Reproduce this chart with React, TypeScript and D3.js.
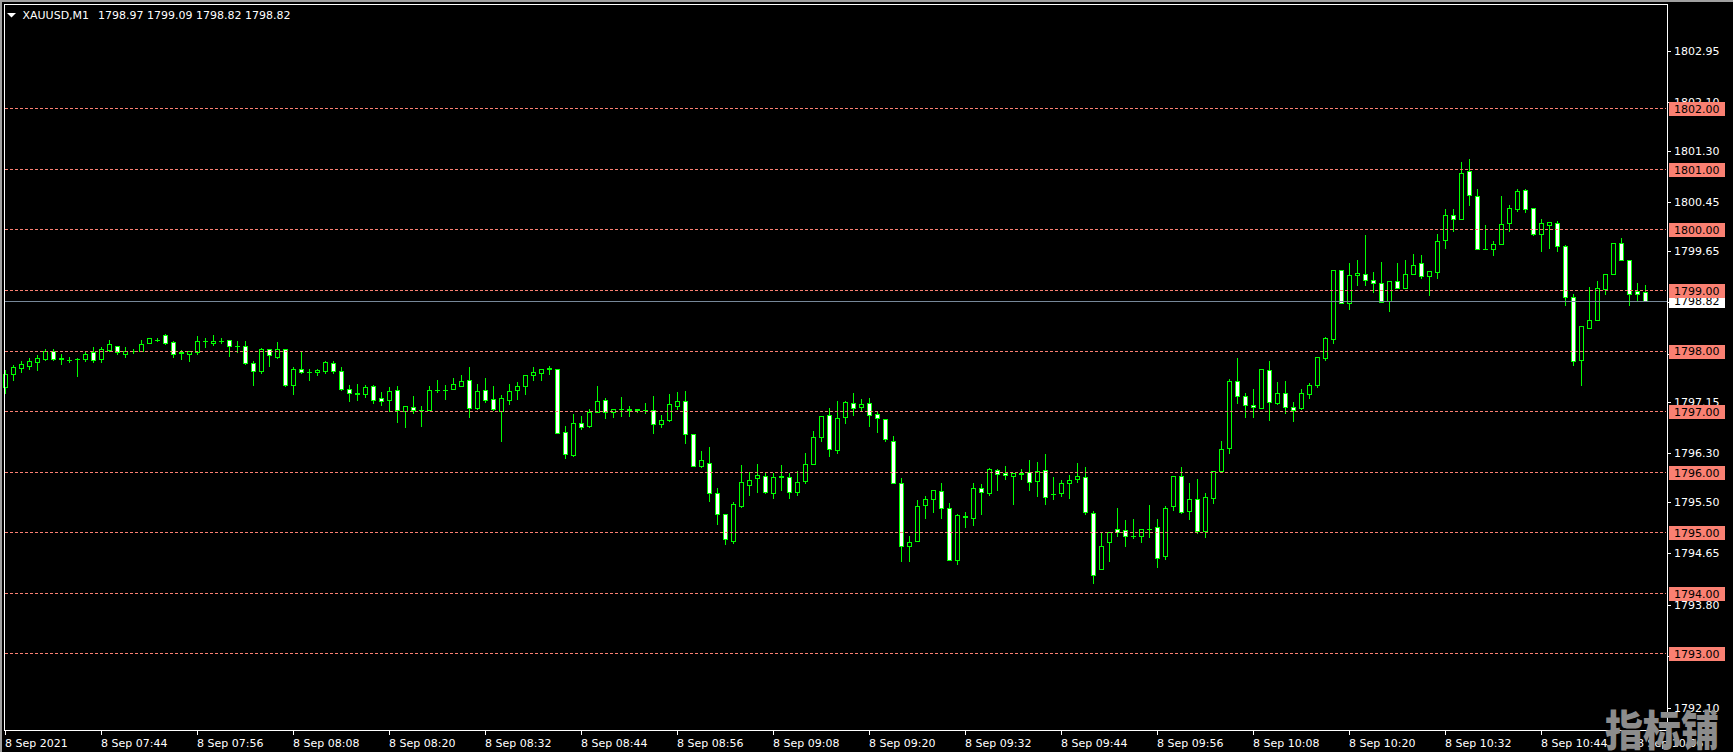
import React from 'react';
import * as d3 from 'd3';

const W = 1733;
const H = 752;

const OPEN = [
  1797.40,1797.62,1797.71,1797.75,1797.81,1797.86,1798.00,1797.87,1797.85,1797.86,
  1797.86,1797.97,1797.86,1798.01,1798.08,1797.95,1797.99,1798.00,1798.12,1798.18,
  1798.25,1798.14,1797.97,1797.95,1797.97,1798.16,1798.13,1798.16,1798.18,1798.07,
  1798.08,1797.79,1797.66,1798.02,1797.90,1798.02,1797.43,1797.70,1797.64,1797.64,
  1797.66,1797.79,1797.66,1797.37,1797.30,1797.29,1797.41,1797.21,1797.19,1797.35,
  1797.00,1797.07,1797.02,1797.02,1797.34,1797.35,1797.37,1797.42,1797.51,1797.05,
  1797.35,1797.20,1797.00,1797.19,1797.34,1797.42,1797.60,1797.63,1797.70,1797.69,
  1796.66,1796.27,1796.81,1796.75,1796.99,1797.18,1796.99,1797.03,1797.04,1797.02,
  1797.02,1797.01,1796.78,1796.86,1797.09,1797.16,1796.62,1796.10,1796.14,1795.64,
  1795.30,1794.86,1795.44,1795.78,1795.89,1795.93,1795.64,1795.92,1795.91,1795.66,
  1795.84,1796.12,1796.58,1796.93,1796.35,1796.90,1797.13,1797.07,1797.13,1796.95,
  1796.87,1796.50,1795.81,1794.77,1794.85,1795.45,1795.55,1795.68,1795.40,1794.54,
  1795.26,1795.23,1795.73,1795.64,1796.02,1795.98,1795.93,1795.97,1795.99,1795.84,
  1796.02,1795.63,1795.64,1795.81,1795.88,1795.91,1795.31,1794.39,1794.83,1795.05,
  1795.03,1794.93,1794.93,1795.06,1795.08,1794.60,1795.43,1795.93,1795.35,1795.55,
  1795.02,1795.57,1796.01,1796.39,1797.50,1797.25,1797.10,1797.05,1797.68,1797.13,
  1797.30,1797.07,1797.05,1797.28,1797.43,1797.88,1798.19,1799.33,1798.78,1799.24,
  1799.26,1799.16,1799.11,1798.81,1799.14,1799.04,1799.26,1799.44,1799.23,1799.29,
  1799.82,1800.24,1800.18,1800.97,1800.55,1799.68,1799.68,1799.76,1800.10,1800.34,
  1800.65,1800.35,1799.92,1800.07,1800.10,1799.72,1798.88,1797.85,1798.38,1798.51,
  1799.01,1799.26,1799.77,1799.49,1798.98,1798.97,
];

const HIGH = [
  1797.68,1797.76,1797.82,1797.88,1797.92,1798.03,1798.02,1797.94,1797.90,1797.87,
  1798.00,1798.06,1798.06,1798.18,1798.08,1798.05,1798.03,1798.18,1798.20,1798.21,
  1798.27,1798.16,1798.01,1798.00,1798.24,1798.21,1798.26,1798.20,1798.18,1798.15,
  1798.15,1797.82,1798.04,1798.02,1798.14,1798.03,1797.73,1797.98,1797.69,1797.69,
  1797.83,1797.82,1797.73,1797.43,1797.45,1797.43,1797.43,1797.31,1797.39,1797.41,
  1797.08,1797.25,1797.08,1797.41,1797.51,1797.43,1797.54,1797.59,1797.73,1797.45,
  1797.54,1797.41,1797.26,1797.45,1797.48,1797.59,1797.73,1797.69,1797.74,1797.69,
  1796.76,1796.95,1796.92,1797.03,1797.41,1797.21,1797.04,1797.23,1797.09,1797.04,
  1797.13,1797.25,1796.93,1797.28,1797.31,1797.33,1796.62,1796.34,1796.41,1795.73,
  1795.30,1795.50,1796.11,1796.00,1796.13,1795.98,1795.98,1796.11,1795.98,1796.01,
  1796.31,1796.67,1796.92,1797.05,1797.17,1797.17,1797.30,1797.20,1797.22,1796.99,
  1796.87,1796.59,1795.90,1794.94,1795.53,1795.60,1795.69,1795.81,1795.48,1795.30,
  1795.33,1795.82,1795.79,1796.06,1796.05,1796.10,1795.98,1796.05,1796.20,1796.16,
  1796.29,1795.91,1795.87,1795.94,1796.15,1796.08,1795.35,1795.00,1795.00,1795.40,
  1795.20,1795.21,1795.05,1795.45,1795.21,1795.44,1795.93,1796.07,1795.81,1795.88,
  1795.64,1796.01,1796.51,1797.53,1797.88,1797.30,1797.37,1797.70,1797.82,1797.48,
  1797.50,1797.15,1797.37,1797.46,1797.90,1798.22,1799.33,1799.33,1799.44,1799.50,
  1799.91,1799.29,1799.46,1799.14,1799.45,1799.50,1799.60,1799.58,1799.31,1799.93,
  1800.33,1800.34,1801.12,1801.17,1800.67,1800.08,1799.81,1800.56,1800.40,1800.67,
  1800.67,1800.35,1800.17,1800.12,1800.14,1799.74,1798.94,1798.40,1799.05,1799.15,
  1799.26,1799.77,1799.86,1799.49,1799.11,1799.09,
];

const LOW = [
  1797.30,1797.52,1797.65,1797.70,1797.68,1797.84,1797.85,1797.77,1797.81,1797.58,
  1797.82,1797.81,1797.81,1797.99,1797.95,1797.90,1797.96,1797.99,1798.12,1798.15,
  1798.10,1797.90,1797.86,1797.83,1797.94,1798.06,1798.09,1798.12,1797.91,1797.98,
  1797.77,1797.43,1797.63,1797.74,1797.87,1797.41,1797.28,1797.63,1797.51,1797.59,
  1797.63,1797.63,1797.35,1797.17,1797.18,1797.24,1797.13,1797.10,1797.00,1796.82,
  1796.73,1796.96,1796.76,1797.02,1797.31,1797.20,1797.37,1797.42,1796.91,1797.03,
  1797.15,1797.01,1796.51,1797.11,1797.20,1797.29,1797.52,1797.52,1797.62,1796.63,
  1796.23,1796.26,1796.70,1796.73,1796.99,1796.89,1796.91,1796.92,1796.92,1796.99,
  1796.97,1796.64,1796.73,1796.84,1797.04,1796.48,1796.10,1796.07,1795.52,1795.14,
  1794.81,1794.82,1795.42,1795.61,1795.67,1795.64,1795.57,1795.69,1795.56,1795.61,
  1795.82,1796.12,1796.50,1796.25,1796.30,1796.80,1796.93,1797.02,1796.75,1796.66,
  1796.50,1795.81,1794.53,1794.52,1794.85,1795.24,1795.34,1795.24,1794.54,1794.48,
  1795.08,1795.12,1795.30,1795.61,1795.69,1795.88,1795.47,1795.88,1795.69,1795.59,
  1795.46,1795.54,1795.59,1795.57,1795.83,1795.30,1794.16,1794.39,1794.53,1794.93,
  1794.78,1794.91,1794.83,1794.92,1794.43,1794.55,1795.37,1795.32,1795.21,1794.99,
  1794.92,1795.49,1795.99,1796.30,1797.13,1796.91,1796.91,1797.05,1796.86,1797.12,
  1796.97,1796.83,1797.04,1797.22,1797.40,1797.85,1798.12,1798.78,1798.69,1799.09,
  1799.08,1798.97,1798.80,1798.66,1799.04,1799.04,1799.26,1799.19,1798.91,1799.19,
  1799.70,1799.97,1800.17,1800.40,1799.67,1799.67,1799.58,1799.76,1799.97,1800.31,
  1800.29,1799.91,1799.64,1799.69,1799.65,1798.75,1797.76,1797.43,1798.38,1798.51,
  1798.94,1799.26,1799.49,1798.75,1798.81,1798.82,
];

const CLOSE = [
  1797.62,1797.72,1797.77,1797.82,1797.88,1797.99,1797.86,1797.86,1797.85,1797.86,
  1797.95,1797.85,1798.03,1798.10,1797.97,1798.00,1797.99,1798.10,1798.20,1798.18,
  1798.13,1797.95,1797.96,1798.00,1798.15,1798.16,1798.16,1798.16,1798.08,1798.07,
  1797.79,1797.66,1798.02,1797.93,1798.03,1797.43,1797.69,1797.64,1797.64,1797.68,
  1797.81,1797.66,1797.37,1797.30,1797.29,1797.39,1797.19,1797.17,1797.33,1797.02,
  1797.08,1797.02,1797.01,1797.35,1797.34,1797.34,1797.45,1797.49,1797.05,1797.33,
  1797.19,1797.04,1797.21,1797.33,1797.42,1797.59,1797.64,1797.69,1797.71,1796.64,
  1796.29,1796.80,1796.74,1796.99,1797.16,1796.99,1797.04,1797.03,1797.01,1797.03,
  1797.01,1796.78,1796.86,1797.11,1797.16,1796.62,1796.10,1796.19,1795.64,1795.30,
  1794.88,1795.46,1795.83,1795.86,1795.94,1795.67,1795.91,1795.91,1795.67,1795.83,
  1796.12,1796.57,1796.92,1796.37,1796.88,1797.15,1797.05,1797.12,1796.93,1796.88,
  1796.54,1795.81,1794.77,1794.83,1795.43,1795.55,1795.69,1795.40,1794.54,1795.28,
  1795.25,1795.73,1795.66,1796.04,1795.96,1795.94,1795.98,1795.96,1795.83,1796.01,
  1795.58,1795.63,1795.81,1795.86,1795.93,1795.33,1794.29,1794.77,1795.00,1795.01,
  1794.93,1794.93,1795.05,1795.05,1794.57,1795.40,1795.93,1795.34,1795.55,1795.02,
  1795.58,1796.01,1796.37,1797.50,1797.25,1797.10,1797.07,1797.70,1797.15,1797.30,
  1797.07,1797.01,1797.30,1797.43,1797.90,1798.20,1799.33,1798.78,1799.24,1799.28,
  1799.16,1799.11,1798.80,1799.14,1799.04,1799.26,1799.41,1799.23,1799.31,1799.81,
  1800.24,1800.18,1800.93,1800.57,1799.67,1799.67,1799.76,1800.09,1800.35,1800.64,
  1800.34,1799.92,1800.10,1800.12,1799.72,1798.88,1797.83,1798.40,1798.51,1799.04,
  1799.26,1799.77,1799.49,1798.94,1798.94,1798.82,
];

const TIME_LABELS = [
  '8 Sep 2021', '8 Sep 07:44', '8 Sep 07:56', '8 Sep 08:08', '8 Sep 08:20', '8 Sep 08:32',
  '8 Sep 08:44', '8 Sep 08:56', '8 Sep 09:08', '8 Sep 09:20', '8 Sep 09:32', '8 Sep 09:44',
  '8 Sep 09:56', '8 Sep 10:08', '8 Sep 10:20', '8 Sep 10:32', '8 Sep 10:44', '8 Sep 10:56',
];
const BARS_PER_LABEL = 12;

const PRICE_TICKS = [
  1802.95, 1802.10, 1801.30, 1800.45, 1799.65, 1798.80, 1797.95,
  1797.15, 1796.30, 1795.50, 1794.65, 1793.80, 1792.95, 1792.10,
];
const LEVELS = [1802, 1801, 1800, 1799, 1798, 1797, 1796, 1795, 1794, 1793];
const BID = 1798.82;
const HEADER = ['XAUUSD,M1', '1798.97 1799.09 1798.82 1798.82'];
const WATERMARK = '指标铺';

const GREEN = '#00ff00';
const SALMON = '#fa8072';
const FONT = '"DejaVu Sans", Tahoma, sans-serif';

export default function App() {
  const n = OPEN.length;
  const x = d3.scaleLinear().domain([0, 1]).range([5, 13]);
  const y = d3.scaleLinear().domain([1793, 1802]).range([653.3, 108.3]);

  const left = 4, top = 4, right = 1667, bottom = 730;
  const py = (v: number) => Math.round(y(v)) + 0.5;

  const candles = d3.range(n).map((i) => {
    const o = OPEN[i], c = CLOSE[i], h = HIGH[i], l = LOW[i];
    const cx = x(i);
    const yt = Math.round(y(Math.max(o, c)));
    const yb = Math.round(y(Math.min(o, c)));
    const bull = c > o;
    return (
      <g key={i}>
        <line x1={cx + 0.5} x2={cx + 0.5} y1={Math.round(y(h))} y2={Math.round(y(l)) + 1} stroke={GREEN} strokeWidth={1} />
        {yb - yt >= 1 ? (
          <rect x={cx - 1.5} y={yt + 0.5} width={4} height={yb - yt} fill={bull ? '#000' : '#fff'} stroke={GREEN} strokeWidth={1} />
        ) : (
          <line x1={cx - 2} x2={cx + 3} y1={yt + 0.5} y2={yt + 0.5} stroke={GREEN} strokeWidth={1} />
        )}
      </g>
    );
  });

  return (
    <div style={{ position: 'fixed', left: 0, top: 0, width: W, height: H, background: '#000' }}>
      <svg width={W} height={H} style={{ display: 'block' }} fontFamily={FONT}>
        <rect x={0} y={0} width={W} height={H} fill="#000" />
        <rect x={0} y={0} width={W} height={2} fill="#a0a0a0" />
        <rect x={0} y={0} width={2} height={H} fill="#a0a0a0" />

        <g>{candles}</g>

        {LEVELS.map((lv) => (
          <line key={lv} x1={left + 1} x2={right - 1} y1={py(lv)} y2={py(lv)} stroke={SALMON} strokeWidth={1} strokeDasharray="3 2" />
        ))}
        <line x1={left + 1} x2={right} y1={py(BID)} y2={py(BID)} stroke="#778899" strokeWidth={1} />

        <line x1={left + 0.5} x2={left + 0.5} y1={top} y2={bottom + 1} stroke="#fff" />
        <line x1={left} x2={right + 1} y1={top + 0.5} y2={top + 0.5} stroke="#fff" />
        <line x1={right + 0.5} x2={right + 0.5} y1={top} y2={bottom + 1} stroke="#fff" />
        <line x1={left} x2={right + 1} y1={bottom + 0.5} y2={bottom + 0.5} stroke="#fff" />

        <path d="M7,13 L16,13 L11.5,17.5 Z" fill="#fff" />
        <text x={22.5} y={18.5} fill="#fff" fontSize={11}>{HEADER[0]}</text>
        <text x={98} y={18.5} fill="#fff" fontSize={11}>{HEADER[1]}</text>

        {PRICE_TICKS.map((t) => (
          <g key={t}>
            <line x1={right + 1} x2={right + 4} y1={py(t)} y2={py(t)} stroke="#fff" />
            <text x={1674} y={y(t)} dy="0.36em" fill="#fff" fontSize={11}>{t.toFixed(2)}</text>
          </g>
        ))}
        <g>
          <rect x={1669} y={Math.round(y(BID)) - 7} width={56} height={14} fill="#fff" />
          <text x={1674} y={y(BID)} dy="0.36em" fill="#000" fontSize={11}>{BID.toFixed(2)}</text>
        </g>
        {LEVELS.map((lv) => (
          <g key={'l' + lv}>
            <rect x={1669} y={Math.round(y(lv)) - 6} width={56} height={14} fill={SALMON} />
            <text x={1674} y={y(lv) + 1} dy="0.36em" fill="#000" fontSize={11}>{lv.toFixed(2)}</text>
          </g>
        ))}

        {TIME_LABELS.map((lab, k) => {
          const tx = x(k * BARS_PER_LABEL);
          return (
            <g key={lab}>
              <line x1={tx + 0.5} x2={tx + 0.5} y1={bottom + 1} y2={bottom + 5} stroke="#fff" />
              <text x={tx} y={747} fill="#fff" fontSize={11}>{lab}</text>
            </g>
          );
        })}

        <text x={1605} y={746} fill="#8c8c8c" fontSize={42} fontWeight={900}
          textLength={114} lengthAdjust="spacingAndGlyphs"
          fontFamily='"Noto Sans CJK SC", sans-serif'>{WATERMARK}</text>
      </svg>
    </div>
  );
}
